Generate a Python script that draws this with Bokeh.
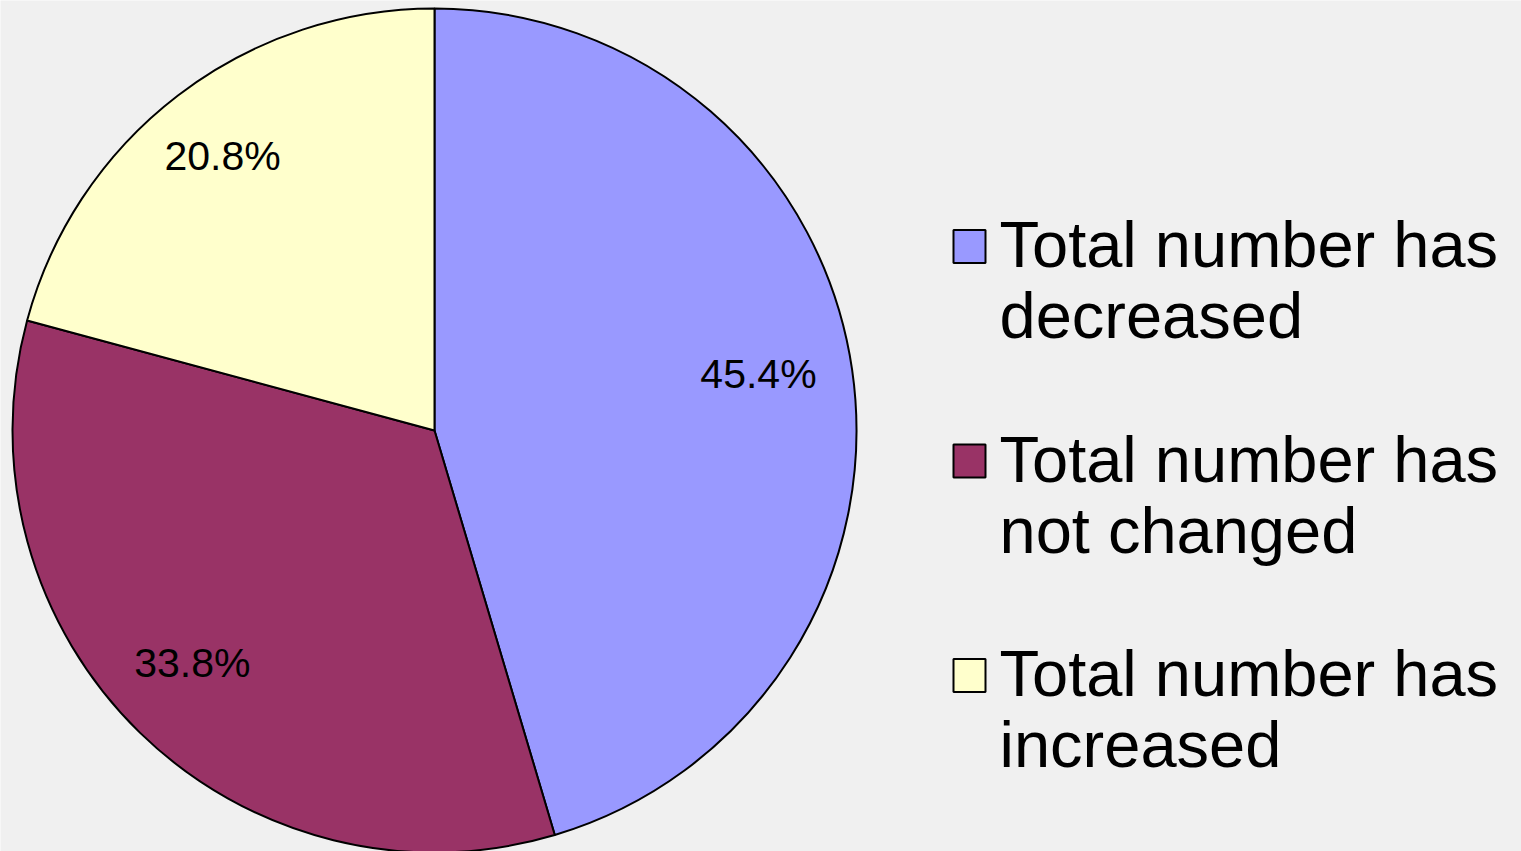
import math
from bokeh.plotting import figure
from bokeh.models import Range1d, ColumnDataSource
from bokeh.core.properties import value
from bokeh.embed import file_html
from bokeh.resources import INLINE

# ---- data ----
categories = ["Total number has decreased", "Total number has not changed", "Total number has increased"]
shares = [45.4, 33.8, 20.8]
colors = ["#9999FF", "#993366", "#FFFFCC"]
label_texts = ["45.4%", "33.8%", "20.8%"]

# ---- layout (page pixel space) ----
W, H = 1521, 851
cx, cy, R = 434, -430, 422
LABEL_FRAC = 0.795
LABEL_SHIFT_X, LABEL_SHIFT_Y = -8, 8
BG = "#F0F0F0"

p = figure(width=W, height=H, output_backend="svg", toolbar_location=None,
           x_range=Range1d(0, W), y_range=Range1d(-H, 0),
           min_border=0, background_fill_color=BG, border_fill_color=BG)
p.axis.visible = False
p.grid.visible = False
p.outline_line_color = None

total = sum(shares)
starts, ends, lx, ly = [], [], [], []
cum = 0.0
for s in shares:
    a0 = math.pi / 2 - 2 * math.pi * cum / total
    cum += s
    a1 = math.pi / 2 - 2 * math.pi * cum / total
    starts.append(a0)
    ends.append(a1)
    mid = (a0 + a1) / 2
    lx.append(cx + LABEL_FRAC * R * math.cos(mid) + LABEL_SHIFT_X)
    ly.append(cy + LABEL_FRAC * R * math.sin(mid) + LABEL_SHIFT_Y)

src = ColumnDataSource(dict(start=starts, end=ends, color=colors, lx=lx, ly=ly, lab=label_texts))
p.wedge(x=cx, y=cy, radius=R, start_angle="start", end_angle="end", direction="clock",
        fill_color="color", line_color="black", line_width=2, source=src)
p.text(x="lx", y="ly", text="lab", source=src, text_align="center", text_baseline="middle",
       text_font=value("Liberation Sans"), text_font_size="41px", text_color="black")

# ---- legend ----
box_x, box_y0, step = 969, -246, -214.5
bx = [box_x] * len(categories)
by = [box_y0 + i * step for i in range(len(categories))]
p.rect(x=bx, y=by, width=32, height=33, fill_color=colors, line_color="black", line_width=2)

line1, line2, t1y, t2y = [], [], [], []
for i, c in enumerate(categories):
    k = c.index("has") + 3
    line1.append(c[:k])
    line2.append(c[k:].strip())
    t1y.append(by[i] + 2)
    t2y.append(by[i] - 69)
tx = [999] * len(categories)
p.text(x=tx, y=t1y, text=line1, text_align="left", text_baseline="alphabetic",
       text_font=value("Liberation Sans"), text_font_size="65px", text_color="black")
p.text(x=tx, y=t2y, text=line2, text_align="left", text_baseline="alphabetic",
       text_font=value("Liberation Sans"), text_font_size="65px", text_color="black")

open("out.html", "w").write(file_html(p, INLINE))
